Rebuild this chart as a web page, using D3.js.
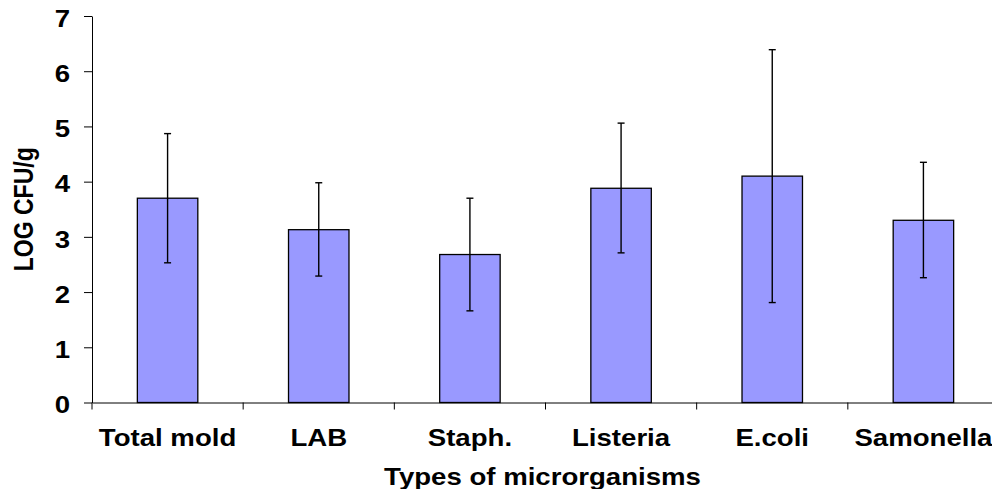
<!DOCTYPE html>
<html>
<head>
<meta charset="utf-8">
<script src="https://cdn.jsdelivr.net/npm/d3@7"></script>
<style>
  html, body { margin: 0; padding: 0; background: #fff; overflow: hidden; }
  text { font-family: "Liberation Sans", Arial, sans-serif; font-weight: bold; fill: #000; }
</style>
</head>
<body>
<div id="chart"></div>
<script>
// data
const categories = ["Total mold", "LAB", "Staph.", "Listeria", "E.coli", "Samonella"];
const means = [3.70, 3.13, 2.68, 3.88, 4.10, 3.30];
const errLow = [2.53, 2.29, 1.66, 2.71, 1.81, 2.26];
const errHigh = [4.87, 3.98, 3.70, 5.06, 6.39, 4.35];
const yTicks = [0, 1, 2, 3, 4, 5, 6, 7];

const data = categories.map((c, i) => ({ cat: c, mean: means[i], lo: errLow[i], hi: errHigh[i] }));

// MARGIN CONVENTIONS
const margin = { top: 16, right: -7, bottom: 86.5, left: 92 };
const outerWidth = 992;
const outerHeight = 489;
const width = outerWidth - margin.left - margin.right;
const height = outerHeight - margin.top - margin.bottom;
const stretch = 1.2; // text in the original is horizontally stretched

const svg = d3.select("#chart").append("svg")
	.attr("width", outerWidth)
	.attr("height", outerHeight);

const g = svg.append("g")
	.attr("transform", `translate(${margin.left}, ${margin.top})`);

const x = d3.scaleBand()
	.domain(categories)
	.range([0, width])
	.paddingInner(0.6)
	.paddingOuter(0.3);

const y = d3.scaleLinear()
	.domain([0, 7])
	.range([height, 0]);

// stretch a text horizontally around its anchor point
const widen = sel => sel.each(function () {
	const t = d3.select(this);
	const ax = +t.attr("x") || 0;
	t.attr("transform", `translate(${ax},0) scale(${stretch},1) translate(${-ax},0)`);
});

// y axis
const yAxis = g.append("g")
	.call(d3.axisLeft(y).tickValues(yTicks).tickSize(8).tickSizeOuter(0).tickPadding(14).tickFormat(d3.format("d")));
yAxis.select(".domain").attr("stroke", "#000");
yAxis.selectAll(".tick line").attr("stroke", "#000");
yAxis.selectAll(".tick text")
	.attr("dy", "0.45em")
	.style("font-size", "23px")
	.style("font-family", "'Liberation Sans', Arial, sans-serif")
	.style("font-weight", "bold")
	.call(widen);

// x axis line and boundary ticks
const xAxis = g.append("g")
	.attr("transform", `translate(0, ${height})`)
	.call(d3.axisBottom(x).tickSize(0).tickFormat(""));
xAxis.select(".domain").attr("stroke", "#000");
xAxis.selectAll(".tick").remove();

const boundaries = categories.map(c => x(c) - x.step() * x.paddingOuter()).concat([width]);
xAxis.selectAll(".bound")
	.data(boundaries)
	.enter()
	.append("line")
	.attr("x1", d => d)
	.attr("x2", d => d)
	.attr("y1", 0)
	.attr("y2", 7)
	.attr("stroke", "#000");

xAxis.selectAll(".cat")
	.data(categories)
	.enter()
	.append("text")
	.attr("x", d => x(d) + x.bandwidth() / 2)
	.attr("y", 43.5)
	.attr("text-anchor", "middle")
	.style("font-size", "23px")
	.text(d => d)
	.call(widen);

// bars
g.selectAll(".bar")
	.data(data)
	.enter()
	.append("rect")
	.attr("x", d => x(d.cat))
	.attr("y", d => y(d.mean))
	.attr("width", x.bandwidth())
	.attr("height", d => height - y(d.mean))
	.attr("fill", "#9999FF")
	.attr("stroke", "#000")
	.attr("stroke-width", 1.3);

// error bars
const err = g.selectAll(".err")
	.data(data)
	.enter()
	.append("g")
	.attr("transform", d => `translate(${x(d.cat) + x.bandwidth() / 2}, 0)`);

err.append("line")
	.attr("y1", d => y(d.lo))
	.attr("y2", d => y(d.hi))
	.attr("stroke", "#000")
	.attr("stroke-width", 1.4);

err.selectAll(".cap")
	.data(d => [d.lo, d.hi])
	.enter()
	.append("line")
	.attr("x1", -3.5)
	.attr("x2", 3.5)
	.attr("y1", d => y(d))
	.attr("y2", d => y(d))
	.attr("stroke", "#000")
	.attr("stroke-width", 1.4);

// labels
g.append("text")
	.attr("text-anchor", "middle")
	.attr("x", width / 2 - 3)
	.attr("y", height + 83)
	.style("font-size", "23px")
	.text("Types of microrganisms")
	.call(widen);

g.append("text")
	.attr("text-anchor", "middle")
	.attr("transform", `translate(${-margin.left + 33}, ${height / 2}) scale(${stretch},1) rotate(-90)`)
	.style("font-size", "23px")
	.text("LOG CFU/g");
</script>
</body>
</html>
